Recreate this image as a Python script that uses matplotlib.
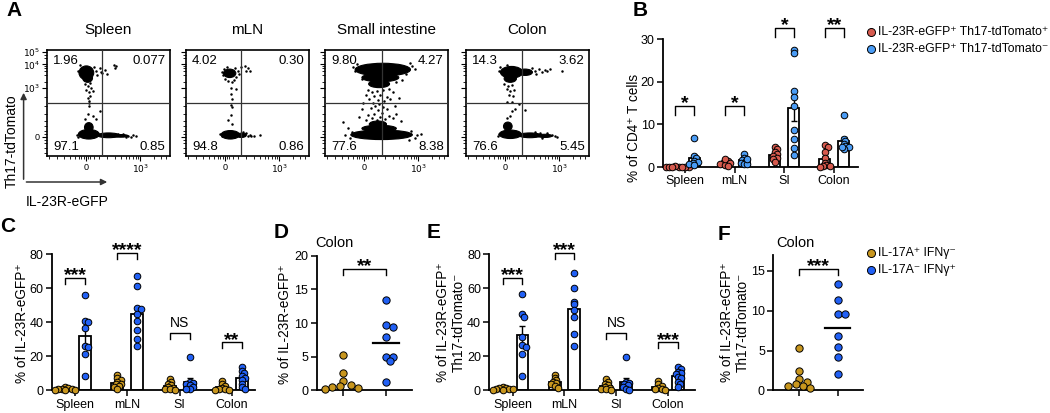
import numpy as np
import matplotlib
matplotlib.use("Agg")
import matplotlib.pyplot as plt
from matplotlib.patches import Ellipse, FancyArrowPatch
from matplotlib.lines import Line2D

plt.rcParams['font.family'] = ['Liberation Sans', 'DejaVu Sans']
plt.rcParams['axes.linewidth'] = 1.2

# ---------------- data ----------------
flow_tissues = ['Spleen', 'mLN', 'Small intestine', 'Colon']
q_ul = ['1.96', '4.02', '9.80', '14.3']
q_ur = ['0.077', '0.30', '4.27', '3.62']
q_ll = ['97.1', '94.8', '77.6', '76.6']
q_lr = ['0.85', '0.86', '8.38', '5.45']
gate_x = [0.444, 0.45, 0.46, 0.458]

# dense event clusters per tissue: (center x, center y, width, height) in gate-plot units
spleen_blobs = [(0.32, 0.785, 0.12, 0.13), (0.33, 0.735, 0.08, 0.08), (0.34, 0.205, 0.17, 0.09),
                (0.34, 0.27, 0.07, 0.09), (0.50, 0.195, 0.18, 0.045), (0.60, 0.19, 0.12, 0.025)]
mln_blobs = [(0.355, 0.78, 0.10, 0.08), (0.36, 0.20, 0.15, 0.08), (0.45, 0.195, 0.08, 0.04)]
si_blobs = [(0.47, 0.815, 0.45, 0.12), (0.45, 0.74, 0.30, 0.08), (0.44, 0.68, 0.17, 0.07),
            (0.46, 0.20, 0.50, 0.09), (0.44, 0.26, 0.28, 0.06), (0.43, 0.30, 0.14, 0.06)]
colon_blobs = [(0.37, 0.79, 0.18, 0.11), (0.36, 0.73, 0.10, 0.07), (0.48, 0.79, 0.12, 0.06),
               (0.36, 0.205, 0.18, 0.08), (0.34, 0.28, 0.07, 0.08), (0.52, 0.195, 0.18, 0.045),
               (0.64, 0.19, 0.12, 0.03)]

# sparse events per tissue
spleen_ev_x = [0.25, 0.27, 0.38, 0.40, 0.41, 0.43, 0.45, 0.47, 0.545, 0.565, 0.555, 0.49, 0.44,
               0.31, 0.33, 0.35, 0.36, 0.32, 0.34, 0.37, 0.35, 0.33, 0.34, 0.345, 0.34,
               0.33, 0.37, 0.43, 0.31, 0.40, 0.66, 0.68, 0.70, 0.72, 0.64, 0.62, 0.58, 0.24, 0.25]
spleen_ev_y = [0.80, 0.86, 0.84, 0.80, 0.76, 0.83, 0.78, 0.81, 0.86, 0.85, 0.83, 0.77, 0.79,
               0.68, 0.66, 0.69, 0.64, 0.62, 0.60, 0.61, 0.57, 0.55, 0.52, 0.50, 0.47,
               0.40, 0.38, 0.42, 0.35, 0.35, 0.19, 0.18, 0.195, 0.19, 0.175, 0.205, 0.21, 0.20, 0.18]
mln_ev_x = [0.29, 0.30, 0.31, 0.33, 0.40, 0.42, 0.41, 0.39, 0.34, 0.32, 0.37, 0.43,
            0.477, 0.504, 0.518, 0.49, 0.45, 0.369, 0.409, 0.363, 0.377, 0.369, 0.377,
            0.341, 0.363, 0.374, 0.48, 0.50, 0.52, 0.53, 0.55, 0.60, 0.46, 0.49, 0.28, 0.29]
mln_ev_y = [0.79, 0.76, 0.82, 0.84, 0.83, 0.80, 0.75, 0.72, 0.71, 0.73, 0.70, 0.77,
            0.845, 0.83, 0.805, 0.80, 0.835, 0.645, 0.63, 0.583, 0.537, 0.485, 0.46,
            0.343, 0.383, 0.30, 0.21, 0.19, 0.20, 0.185, 0.19, 0.20, 0.23, 0.22, 0.21, 0.19]
si_ev_x = [0.35, 0.38, 0.42, 0.47, 0.52, 0.55, 0.33, 0.40, 0.45, 0.50, 0.36, 0.43, 0.48, 0.53,
           0.39, 0.44, 0.41, 0.47, 0.37, 0.50, 0.43, 0.46, 0.40, 0.35, 0.52, 0.45, 0.38, 0.49,
           0.42, 0.55, 0.33, 0.58, 0.57, 0.30, 0.62, 0.28, 0.60, 0.31,
           0.23, 0.24, 0.71, 0.73, 0.69, 0.26, 0.66, 0.63, 0.58, 0.30,
           0.144, 0.184, 0.165, 0.78, 0.20, 0.73, 0.75, 0.22, 0.70, 0.68]
si_ev_y = [0.62, 0.60, 0.61, 0.62, 0.63, 0.60, 0.58, 0.57, 0.58, 0.56, 0.54, 0.53, 0.52, 0.54,
           0.50, 0.49, 0.47, 0.46, 0.45, 0.44, 0.43, 0.41, 0.40, 0.39, 0.38, 0.37, 0.36, 0.35,
           0.34, 0.36, 0.34, 0.40, 0.47, 0.44, 0.33, 0.37, 0.55, 0.50,
           0.84, 0.80, 0.85, 0.82, 0.88, 0.87, 0.77, 0.72, 0.70, 0.73,
           0.32, 0.26, 0.20, 0.21, 0.17, 0.17, 0.20, 0.23, 0.24, 0.15]
colon_ev_x = [0.56, 0.59, 0.62, 0.64, 0.66, 0.68, 0.57, 0.54, 0.78, 0.27, 0.28, 0.33,
              0.31, 0.34, 0.37, 0.33, 0.36, 0.39, 0.35, 0.38, 0.33, 0.37, 0.43,
              0.40, 0.48, 0.37, 0.33, 0.36, 0.70, 0.72, 0.74, 0.66, 0.60, 0.56, 0.62, 0.27, 0.26]
colon_ev_y = [0.80, 0.82, 0.79, 0.81, 0.80, 0.82, 0.77, 0.83, 0.80, 0.80, 0.84, 0.86,
              0.68, 0.66, 0.67, 0.63, 0.61, 0.62, 0.58, 0.57, 0.505, 0.51, 0.49,
              0.44, 0.43, 0.42, 0.36, 0.38, 0.20, 0.19, 0.18, 0.215, 0.22, 0.225, 0.17, 0.21, 0.19]

flow_blobs = [spleen_blobs, mln_blobs, si_blobs, colon_blobs]
flow_ev_x = [spleen_ev_x, mln_ev_x, si_ev_x, colon_ev_x]
flow_ev_y = [spleen_ev_y, mln_ev_y, si_ev_y, colon_ev_y]

# Panel B
groups4 = ['Spleen', 'mLN', 'SI', 'Colon']
b_pos = [[0.05, 0.10, 0.08, 0.12, 0.05, 0.10, 0.07, 0.09],
         [1.5, 1.2, 0.8, 1.0, 0.5, 1.8, 0.9, 0.3],
         [4.8, 4.2, 3.6, 3.0, 2.6, 2.2, 1.8, 1.2],
         [5.2, 4.8, 3.5, 2.0, 1.0, 0.5, 0.3, 0.2, 0.1]]
b_neg = [[6.9, 2.5, 2.0, 1.5, 1.2, 1.0, 0.8, 0.5],
         [3.0, 2.2, 1.6, 1.3, 1.0, 0.8, 0.6, 1.8],
         [27.5, 26.7, 17.8, 16.4, 14.3, 8.6, 6.5, 4.5, 2.9],
         [12.3, 6.5, 6.0, 5.5, 5.0, 4.6, 4.2, 4.8]]
b_sig = ['*', '*', '*', '**']
b_sig_y = [14.4, 14.4, 32.6, 32.6]

# Panel C
c_gold = [[2.0, 1.5, 1.0, 0.8, 0.5, 0.3, 0.2, 0.1],
          [9.0, 7.2, 6.0, 5.0, 4.0, 3.5, 2.5, 2.0, 1.0],
          [6.5, 5.0, 4.0, 3.0, 2.0, 1.5, 1.0, 0.5, 0.2],
          [5.3, 3.5, 2.5, 1.5, 1.0, 0.5, 0.3, 0.2]]
c_blue = [[56.0, 40.5, 40.0, 36.5, 26.0, 25.5, 21.5, 8.7],
          [67.3, 61.4, 48.6, 47.6, 45.0, 40.8, 35.5, 30.2, 26.0],
          [19.8, 5.0, 4.5, 4.0, 3.0, 2.0, 1.0, 0.5],
          [13.5, 11.5, 10.0, 8.5, 7.5, 6.0, 4.0, 2.0, 1.0]]
c_sig = ['***', '****', 'NS', '**']
c_sig_y = [66.3, 80.6, 33.5, 28.2]

# Panel D
d_gold = [5.3, 2.5, 1.4, 0.8, 0.7, 0.5, 0.4, 0.2]
d_blue = [13.4, 9.7, 9.45, 7.9, 5.0, 5.0, 4.3, 1.3]
d_sig, d_sig_y = '**', 18.0

# Panel E
e_gold = [[1.8, 1.5, 1.2, 1.0, 0.8, 0.6, 0.4, 0.2],
          [9.2, 7.5, 6.0, 5.0, 4.2, 3.5, 2.5, 1.5],
          [6.5, 5.0, 4.0, 3.0, 2.0, 1.5, 1.0, 0.5, 0.2],
          [5.2, 3.5, 2.5, 1.5, 1.0, 0.5, 0.3]]
e_blue = [[56.7, 44.7, 43.3, 31.5, 26.7, 25.5, 21.4, 8.6],
          [68.8, 60.0, 52.2, 50.6, 47.3, 43.0, 33.0, 26.0],
          [19.8, 5.0, 4.5, 3.5, 3.0, 2.0, 1.0, 0.3],
          [13.5, 12.5, 11.0, 10.0, 9.5, 8.0, 7.0, 5.0, 3.5, 2.0]]
e_sig = ['***', '***', 'NS', '***']
e_sig_y = [66.3, 81.0, 33.5, 28.2]

# Panel F
f_gold = [5.28, 2.43, 1.38, 1.09, 0.8, 0.6, 0.5, 0.3]
f_blue = [13.3, 11.4, 9.55, 9.55, 6.83, 5.4, 4.23, 2.05]
f_sig, f_sig_y = '***', 15.2

legend_b = ['IL-23R-eGFP⁺ Th17-tdTomato⁺', 'IL-23R-eGFP⁺ Th17-tdTomato⁻']
legend_cf = ['IL-17A⁺ IFNγ⁻', 'IL-17A⁻ IFNγ⁺']

# ---------------- style ----------------
RED = '#d65a4e'
LBLUE = '#4a9cf5'
GOLD = '#c8961e'
DBLUE = '#2160f5'

W, H = 1050, 413
fig = plt.figure(figsize=(W / 100, H / 100), dpi=100)


def add_ax(l, t, r, b):
    return fig.add_axes([l / W, 1 - b / H, (r - l) / W, (b - t) / H])


def ftext(x, y, s, **kw):
    return fig.text(x / W, 1 - y / H, s, **kw)


# ---------------- Panel A: flow plots ----------------
box_left = [47, 186, 325, 466]
box_w = 123
x_minor = [0.02, 0.08, 0.14, 0.19, 0.23, 0.26, 0.28, 0.30, 0.33, 0.35, 0.38, 0.42, 0.49, 0.55,
           0.60, 0.64, 0.67, 0.70, 0.72, 0.74, 0.87, 0.93, 0.97]
y_minor = [0.03, 0.08, 0.12, 0.15, 0.21, 0.24, 0.28, 0.33, 0.40, 0.47, 0.56, 0.70, 0.76, 0.80,
           0.83, 0.85, 0.92, 0.95]
for i, tissue in enumerate(flow_tissues):
    ax = add_ax(box_left[i], 50, box_left[i] + box_w, 156)
    ax.set_xlim(0, 1)
    ax.set_ylim(0, 1)
    for (cx, cy, w, h) in flow_blobs[i]:
        ax.add_patch(Ellipse((cx, cy), w, h, facecolor='black', edgecolor='black', lw=0.8, zorder=2))
    ax.scatter(flow_ev_x[i], flow_ev_y[i], s=3.2, c='black', linewidths=0, zorder=2)
    ax.axvline(gate_x[i], color='#333333', lw=0.9, zorder=3)
    ax.axhline(0.5, color='#333333', lw=0.9, zorder=3)
    ax.text(0.05, 0.955, q_ul[i], ha='left', va='top', fontsize=9.5, transform=ax.transAxes)
    ax.text(0.965, 0.955, q_ur[i], ha='right', va='top', fontsize=9.5, transform=ax.transAxes)
    ax.text(0.05, 0.025, q_ll[i], ha='left', va='bottom', fontsize=9.5, transform=ax.transAxes)
    ax.text(0.965, 0.025, q_lr[i], ha='right', va='bottom', fontsize=9.5, transform=ax.transAxes)
    ax.text(0.5, 1.15, tissue, ha='center', va='baseline', fontsize=11, transform=ax.transAxes)
    ax.set_xticks([0.317, 0.76])
    ax.set_xticklabels(['0', '$10^3$'], fontsize=6.5)
    ax.set_xticks(x_minor, minor=True)
    ax.set_yticks([0.18, 0.64, 0.865, 0.985])
    if i == 0:
        ax.set_yticklabels(['0', '$10^3$', '$10^4$', '$10^5$'], fontsize=6.5)
    else:
        ax.set_yticklabels([])
    ax.set_yticks(y_minor, minor=True)
    ax.tick_params(which='major', length=3.5, width=0.8, pad=1.5)
    ax.tick_params(which='minor', length=2, width=0.6)

# axis arrows
for (p1, p2) in [((23.6, 182), (23.6, 90)), ((23.6, 182), (110, 182))]:
    fig.add_artist(FancyArrowPatch((p1[0] / W, 1 - p1[1] / H), (p2[0] / W, 1 - p2[1] / H),
                                   transform=fig.transFigure, arrowstyle='-|>',
                                   mutation_scale=9, lw=1.1, color='#333333'))
ftext(12, 141, 'Th17-tdTomato', rotation=90, ha='center', va='center', fontsize=10)
ftext(67, 202, 'IL-23R-eGFP', ha='center', va='center', fontsize=10)


# ---------------- helpers ----------------
def swarm_x(ax, xc, vals, diam_px, step=0.25, min_frac=0.4):
    tr = ax.transData
    inv = tr.inverted()
    x0 = tr.transform((xc, 0))[0]
    vals = np.asarray(vals, float)
    order = np.argsort(-vals, kind='stable')
    placed = []
    out = np.zeros(len(vals))
    cands = [0.0]
    for j in range(1, 60):
        cands += [j * step * diam_px, -j * step * diam_px]
    for i in order:
        py = tr.transform((xc, vals[i]))[1]
        for c in cands:
            if all((c - px) ** 2 + (py - qy) ** 2 >= (min_frac * diam_px) ** 2 for px, qy in placed):
                break
        placed.append((c, py))
        out[i] = inv.transform((x0 + c, py))[0]
    return out


def bracket(ax, x1, x2, y, label, leg_px=6):
    tr = ax.transData
    ypx = tr.transform((0, y))[1]
    y2 = tr.inverted().transform((0, ypx - leg_px))[1]
    ax.plot([x1, x1, x2, x2], [y2, y, y, y2], color='black', lw=1.0, clip_on=False, zorder=4)
    if label == 'NS':
        ax.annotate(label, xy=((x1 + x2) / 2, y), xytext=(0, 2.5), textcoords='offset points',
                    ha='center', va='bottom', fontsize=10, annotation_clip=False)
    else:
        ax.annotate(label, xy=((x1 + x2) / 2, y), xytext=(0, -4.5), textcoords='offset points',
                    ha='center', va='bottom', fontsize=14, fontweight='bold', annotation_clip=False)


def style_ax(ax, fs=9):
    for s in ['top', 'right']:
        ax.spines[s].set_visible(False)
    ax.spines['left'].set_linewidth(1.3)
    ax.spines['bottom'].set_linewidth(1.3)
    ax.tick_params(length=4, width=1.1, labelsize=fs, pad=2)


def bar_panel(ax, gvals, bvals, cols, sigs, sig_y, off, bw, diam, leg_px):
    for g in range(len(gvals)):
        for k, (vals, col) in enumerate([(gvals[g], cols[0]), (bvals[g], cols[1])]):
            xc = g + (-off if k == 0 else off)
            v = np.asarray(vals, float)
            m = v.mean()
            sem = v.std(ddof=1) / np.sqrt(len(v))
            ax.bar(xc, m, width=bw, facecolor='white', edgecolor='black', lw=1.3, zorder=2)
            ax.errorbar(xc, m, yerr=sem, color='black', lw=1.0, capsize=2.5, capthick=1.0, zorder=2.5)
            xs = swarm_x(ax, xc, v, diam)
            ax.scatter(xs, v, s=(diam * 0.72) ** 2, facecolor=col, edgecolor='black', linewidths=0.7,
                       zorder=3, clip_on=False)
        bracket(ax, g - off, g + off, sig_y[g], sigs[g], leg_px)


# ---------------- Panel B ----------------
axB = add_ax(663, 39.3, 858, 167)
axB.set_xlim(-0.44, 3.48)
axB.set_ylim(0, 30)
axB.set_yticks([0, 10, 20, 30])
axB.set_xticks(range(4))
axB.set_xticklabels(groups4)
style_ax(axB)
bar_panel(axB, b_pos, b_neg, (RED, LBLUE), b_sig, b_sig_y, 0.19, 0.22, 6.6, 9)
ftext(634, 128, '% of CD4⁺ T cells', rotation=90, ha='center', va='center', fontsize=9.8)

for k, (lab, col) in enumerate(zip(legend_b, (RED, LBLUE))):
    yy = 32 + 17 * k
    fig.add_artist(Line2D([871 / W], [1 - yy / H], marker='o', markersize=5.8, markerfacecolor=col,
                          markeredgecolor='black', markeredgewidth=0.7, transform=fig.transFigure))
    ftext(878, yy, lab, ha='left', va='center', fontsize=8.8)

# ---------------- Panel C ----------------
axC = add_ax(51.7, 254.3, 255, 390.3)
axC.set_xlim(-0.445, 3.44)
axC.set_ylim(0, 80)
axC.set_yticks([0, 20, 40, 60, 80])
axC.set_xticks(range(4))
axC.set_xticklabels(groups4)
style_ax(axC)
bar_panel(axC, c_gold, c_blue, (GOLD, DBLUE), c_sig, c_sig_y, 0.19, 0.23, 6.6, 6)
ftext(21.7, 323, '% of IL-23R-eGFP⁺', rotation=90, ha='center', va='center', fontsize=9.8)


# ---------------- Panels D, F (dot plots) ----------------
def dot_panel(ax, gv, bv, sig, sig_y, diam, line_w):
    for k, (vals, col) in enumerate([(gv, GOLD), (bv, DBLUE)]):
        v = np.asarray(vals, float)
        xs = swarm_x(ax, k, v, diam, step=0.5, min_frac=0.8)
        ax.scatter(xs, v, s=(diam * 0.72) ** 2, facecolor=col, edgecolor='black', linewidths=0.7,
                   zorder=3, clip_on=False)
        if k == 1:
            ax.plot([k - line_w / 2, k + line_w / 2], [v.mean(), v.mean()], color='black', lw=1.6, zorder=4)
    bracket(ax, 0, 1, sig_y, sig, 6)


axD = add_ax(316.7, 255.7, 411.7, 390.3)
axD.set_xlim(-0.62, 1.6)
axD.set_ylim(0, 20)
axD.set_yticks([0, 5, 10, 15, 20])
axD.set_xticks([0, 1])
axD.set_xticklabels([])
style_ax(axD)
dot_panel(axD, d_gold, d_blue, d_sig, d_sig_y, 7.3, 0.59)
ftext(334, 243, 'Colon', ha='center', va='center', fontsize=10.5)
ftext(285, 324, '% of IL-23R-eGFP⁺', rotation=90, ha='center', va='center', fontsize=9.8)

# ---------------- Panel E ----------------
axE = add_ax(489.3, 254.3, 695, 390.3)
axE.set_xlim(-0.45, 3.52)
axE.set_ylim(0, 80)
axE.set_yticks([0, 20, 40, 60, 80])
axE.set_xticks(range(4))
axE.set_xticklabels(groups4)
style_ax(axE)
bar_panel(axE, e_gold, e_blue, (GOLD, DBLUE), e_sig, e_sig_y, 0.19, 0.23, 6.6, 6)
ftext(451, 322, '% of IL-23R-eGFP⁺\nTh17-tdTomato⁻', rotation=90, ha='center', va='center',
      fontsize=9.8, linespacing=1.15, multialignment='center')

# ---------------- Panel F ----------------
axF = add_ax(773.3, 255, 863.3, 390.3)
axF.set_xlim(-0.68, 1.67)
axF.set_ylim(0, 17.0)
axF.set_yticks([0, 5, 10, 15])
axF.set_xticks([0, 1])
axF.set_xticklabels([])
style_ax(axF)
dot_panel(axF, f_gold, f_blue, f_sig, f_sig_y, 7.3, 0.67)
ftext(795, 243, 'Colon', ha='center', va='center', fontsize=10.5)
ftext(735, 322, '% of IL-23R-eGFP⁺\nTh17-tdTomato⁻', rotation=90, ha='center', va='center',
      fontsize=9.8, linespacing=1.15, multialignment='center')

for k, (lab, col) in enumerate(zip(legend_cf, (GOLD, DBLUE))):
    yy = 252.7 + 17.3 * k
    fig.add_artist(Line2D([871 / W], [1 - yy / H], marker='o', markersize=5.8, markerfacecolor=col,
                          markeredgecolor='black', markeredgewidth=0.7, transform=fig.transFigure))
    ftext(878, yy, lab, ha='left', va='center', fontsize=8.8)

# ---------------- panel letters ----------------
for lab, x, y in [('A', 6, 11), ('B', 633, 11), ('C', 0, 227), ('D', 274, 232), ('E', 427, 232), ('F', 718, 234)]:
    ftext(x, y, lab, ha='left', va='center', fontsize=15, fontweight='bold')

fig.savefig('out.png', dpi=100)
